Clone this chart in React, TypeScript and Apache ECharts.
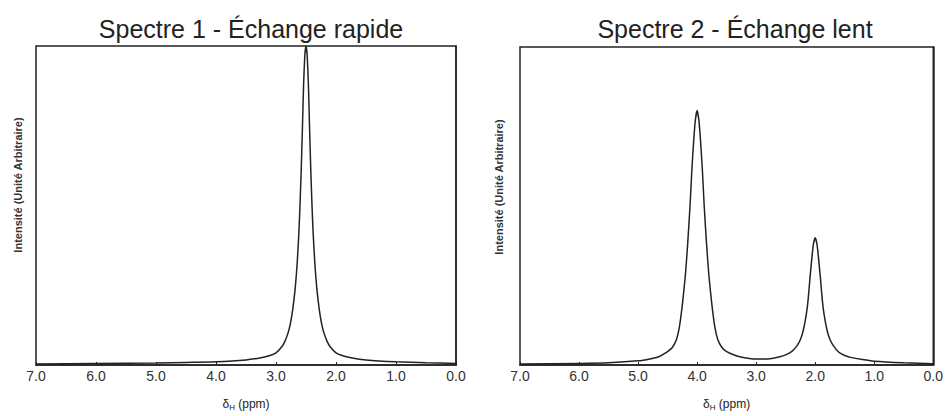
import React, { useEffect, useRef } from "react";
import * as echarts from "echarts";

// Spectre 1 – échange rapide (ppm, intensité arbitraire, 100 = haut du cadre)
const ppm1 = [7.0, 6.0, 5.0, 4.5, 4.0, 3.5, 3.25, 3.1, 3.0, 2.9, 2.85, 2.8, 2.76, 2.72, 2.68, 2.65, 2.62, 2.6, 2.58, 2.56, 2.54, 2.52, 2.5, 2.48, 2.46, 2.44, 2.42, 2.4, 2.38, 2.35, 2.32, 2.28, 2.24, 2.2, 2.15, 2.1, 2.0, 1.9, 1.75, 1.5, 1.0, 0.5, 0.0];
const int1 = [0.35, 0.45, 0.6, 0.8, 1.0, 1.6, 2.3, 3.0, 3.8, 5.8, 7.5, 10, 13, 17.5, 24, 31, 41, 50, 61, 74, 88, 97, 100, 97, 88, 74, 61, 50, 41, 31, 24, 17.5, 13, 10, 7.5, 5.8, 3.8, 3.0, 2.3, 1.6, 1.0, 0.7, 0.5];

// Spectre 2 – échange lent
const ppm2 = [7.0, 6.0, 5.5, 5.0, 4.8, 4.65, 4.5, 4.42, 4.35, 4.3, 4.25, 4.2, 4.16, 4.12, 4.09, 4.06, 4.03, 4.0, 3.97, 3.94, 3.91, 3.88, 3.84, 3.8, 3.75, 3.7, 3.65, 3.58, 3.5, 3.35, 3.2, 3.0, 2.8, 2.6, 2.5, 2.4, 2.31, 2.25, 2.2, 2.15, 2.12, 2.09, 2.06, 2.03, 2.0, 1.97, 1.94, 1.91, 1.88, 1.85, 1.8, 1.75, 1.69, 1.6, 1.5, 1.4, 1.2, 1.0, 0.5, 0.0];
const int2 = [0.3, 0.5, 0.7, 1.3, 1.9, 2.6, 4.2, 5.5, 8, 12, 19, 28, 38, 50, 61, 70, 77, 80, 77, 70, 61, 50, 38, 28, 19, 12, 8, 5.5, 4.2, 3.0, 2.3, 1.9, 1.9, 2.6, 3.2, 4.2, 6, 8, 11, 16, 20.5, 27, 33, 38, 40, 38, 33, 27, 20.5, 16, 11, 8, 6, 4, 3, 2.4, 1.7, 1.2, 0.7, 0.4];

const xTicks = ["0.0", "1.0", "2.0", "3.0", "4.0", "5.0", "6.0", "7.0"];
const titles = ["Spectre 1 - Échange rapide", "Spectre 2 - Échange lent"];
const yName = "Intensité (Unité Arbitraire)";

const pairs = (xs: number[], ys: number[]) => xs.map((x, i) => [x, ys[i]]);

export default function App() {
  const ref = useRef<HTMLDivElement>(null);
  useEffect(() => {
    if (!ref.current) return;
    const chart = echarts.init(ref.current, undefined, { renderer: "svg" });
    const grids = [
      { left: 36, top: 46, width: 420, height: 327 },
      { left: 520, top: 47, width: 416, height: 326 },
    ];
    const xAxis = grids.map((_, i) => ({
      type: "value",
      gridIndex: i,
      min: 0,
      max: 7,
      interval: 1,
      inverse: true,
      name: "δ{sub|H} (ppm)",
      nameLocation: "middle",
      nameGap: 32,
      nameTextStyle: {
        fontFamily: "Liberation Sans",
        fontSize: 12,
        color: "#222",
        rich: { sub: { fontSize: 8, verticalAlign: "bottom", padding: [6, 0, 0, 0], fontFamily: "Liberation Sans", color: "#222" } },
      },
      axisLine: { show: true, onZero: false, lineStyle: { color: "#222", width: 1.5 } },
      axisTick: { show: true, inside: true, length: 3, lineStyle: { color: "#222" } },
      splitLine: { show: false },
      axisLabel: {
        fontFamily: "Liberation Sans",
        fontSize: 14,
        color: "#333",
        margin: 4,
        formatter: (v: number) => xTicks[Math.round(v)] ?? "",
      },
    }));
    const yAxis = grids.map((_, i) => ({
      type: "value",
      gridIndex: i,
      min: 0,
      max: 100,
      axisLine: { show: true, lineStyle: { color: "#222", width: 1.5 } },
      axisTick: { show: false },
      axisLabel: { show: false },
      splitLine: { show: false },
    }));
    chart.setOption({
      animation: false,
      backgroundColor: "#fff",
      title: [
        { text: titles[0], left: 246, top: 11, textAlign: "center", textStyle: { fontFamily: "Liberation Sans", fontSize: 25, fontWeight: "normal", color: "#222" } },
        { text: titles[1], left: 730, top: 11, textAlign: "center", textStyle: { fontFamily: "Liberation Sans", fontSize: 25, fontWeight: "normal", color: "#222" } },
      ],
      grid: grids.map((g) => ({ ...g, show: true, borderColor: "#222", borderWidth: 1.5, backgroundColor: "transparent" })),
      xAxis,
      yAxis,
      series: [
        { type: "line", xAxisIndex: 0, yAxisIndex: 0, data: pairs(ppm1, int1), showSymbol: false, smooth: 0.15, lineStyle: { color: "#222", width: 1.5 } },
        { type: "line", xAxisIndex: 1, yAxisIndex: 1, data: pairs(ppm2, int2), showSymbol: false, smooth: 0.15, lineStyle: { color: "#222", width: 1.5 } },
      ],
      graphic: [
        { type: "text", x: 18, y: 185, rotation: Math.PI / 2, style: { text: yName, align: "center", verticalAlign: "middle", fontFamily: "Liberation Sans", fontSize: 11, fontWeight: "bold", fill: "#333" } },
        { type: "text", x: 499, y: 187, rotation: Math.PI / 2, style: { text: yName, align: "center", verticalAlign: "middle", fontFamily: "Liberation Sans", fontSize: 11, fontWeight: "bold", fill: "#333" } },
      ],
    });
    return () => chart.dispose();
  }, []);
  return <div ref={ref} style={{ width: 946, height: 416, position: "fixed", left: 0, top: 0 }} />;
}
